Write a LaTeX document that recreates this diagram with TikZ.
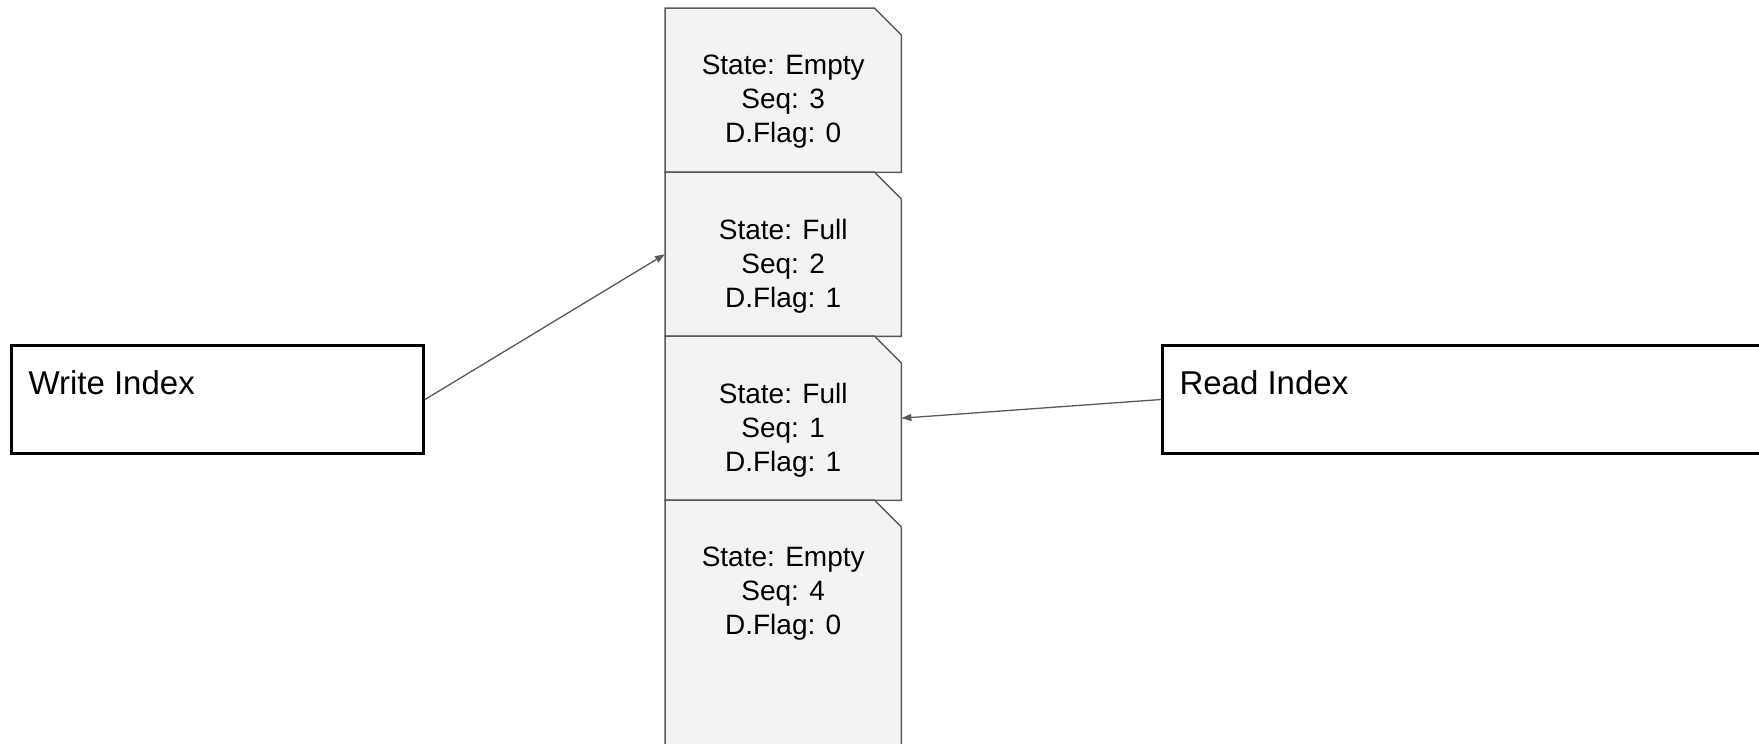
\documentclass[tikz,border=0pt]{standalone}
\usepackage{fontspec}
\setmainfont{Liberation Sans}
\usetikzlibrary{arrows.meta,positioning}

\definecolor{slotfill}{HTML}{F3F3F3}
\definecolor{slotline}{HTML}{595959}

\begin{document}
\begin{tikzpicture}[x=1pt,y=-1pt,
        slot/.style={rectangle,inner sep=0pt,minimum width=236pt,anchor=north west},
        slottext/.style={align=center,font=\fontsize{28}{34}\selectfont},
        index/.style={rectangle,draw=black,line width=3pt,minimum width=412pt,minimum height=108pt,anchor=north west},
        indextext/.style={anchor=west,font=\fontsize{33}{40}\selectfont},
        ptr/.style={draw=slotline,line width=1.3pt,-{Triangle[length=10pt,width=7pt]}}
    ]
            \clip (0,0) rectangle (1759,744);
            \def\fold{27pt}
            \foreach \name/\top/\tall/\txt in {
                s1/8/164/{State: Empty\\Seq: 3\\D.Flag: 0},
                s2/172/164/{State: Full\\Seq: 2\\D.Flag: 1},
                s3/336/164/{State: Full\\Seq: 1\\D.Flag: 1},
                s4/500/280/{State: Empty\\Seq: 4\\D.Flag: 0}}{
                \node[slot,minimum height=\tall pt] (\name) at (665,\top) {};
                \filldraw[fill=slotfill,draw=slotline,line width=1.5pt]
                    (\name.north west) -- ([xshift=-\fold]\name.north east)
                    -- ([yshift=-\fold]\name.north east) -- (\name.south east)
                    -- (\name.south west) -- cycle;
                \node[slottext] (\name t) at ([yshift=-94pt]\name.north) {\txt};
            }
            \node[index] (write) at (10,344) {};
            \node[indextext] (writet) at ([xshift=15pt,yshift=-39pt]write.north west) {Write Index};
            \node[index,minimum width=640pt] (read) at (1161,344) {};
            \node[indextext] (readt) at ([xshift=15pt,yshift=-39pt]read.north west) {Read Index};
            \draw[ptr] (write.east) -- (s2.west);
            \draw[ptr] (read.west) -- (s3.east);
        \end{tikzpicture}
\end{document}
